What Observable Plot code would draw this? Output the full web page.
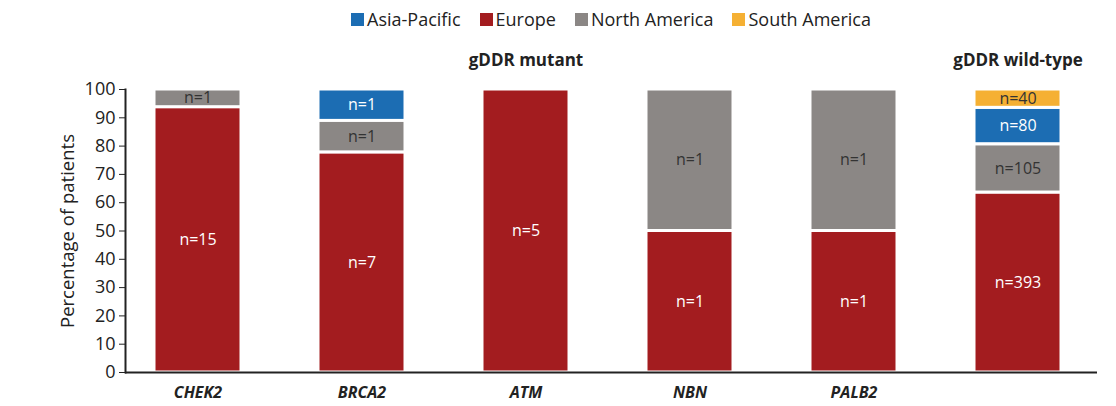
<!DOCTYPE html>
<html><head><meta charset="utf-8">
<script src="https://cdn.jsdelivr.net/npm/d3@7"></script>
<script src="https://cdn.jsdelivr.net/npm/@observablehq/plot@0.6"></script>
<style>
body{margin:0;background:#fff;font-family:"Open Sans",sans-serif;}
#legend{height:38px;box-sizing:border-box;padding:0 19px 0 125px;display:flex;justify-content:center;align-items:center;}
#legend > div{margin:0!important;font-family:"Open Sans",sans-serif!important;font-size:18px!important;color:#222!important;min-height:0!important;}
#legend span{margin-right:19px!important;}
#legend span:last-child{margin-right:0!important;}
#legend svg{margin-right:3px!important;}
</style></head><body>
<div id="legend"></div><div id="chart"></div>
<script>
const genes = ["CHEK2","BRCA2","ATM","NBN","PALB2","WT"];
const geneLabels = ["CHEK2","BRCA2","ATM","NBN","PALB2",""];
const regions = ["Asia-Pacific","Europe","North America","South America"];
const regionColors = ["#1c6db3","#a31c1f","#8b8785","#f5b033"];
const stackOrder = ["Europe","North America","Asia-Pacific","South America"];
const europeN = [15,7,5,1,1,393];
const northAmericaN = [1,1,0,1,1,105];
const asiaPacificN = [0,1,0,0,0,80];
const southAmericaN = [0,0,0,0,0,40];
const groupTitles = ["gDDR mutant","gDDR wild-type"];
const groupAt = ["ATM","WT"];
const lightText = ["Europe","Asia-Pacific"];

const counts = {"Europe":europeN,"North America":northAmericaN,"Asia-Pacific":asiaPacificN,"South America":southAmericaN};
const rows = [];
genes.forEach((g,i)=>{
  const total = regions.reduce((s,r)=>s+counts[r][i],0);
  regions.forEach(r=>{
    const n = counts[r][i];
    if(n>0) rows.push({gene:g, region:r, n, pct:n/total*100});
  });
});

const chart = Plot.plot({
  width:1116, height:368, marginTop:51, marginBottom:34, marginLeft:125, marginRight:19,
  style:{fontFamily:"Open Sans", fontSize:"17px", color:"#222", background:"#fff"},
  x:{domain:genes, paddingInner:0.472, paddingOuter:0.185, align:0.45, label:null},
  y:{domain:[0,100], label:"Percentage of patients"},
  color:{domain:regions, range:regionColors},
  marks:[
    Plot.barY(rows, {x:"gene", y:"pct", fill:"region", z:"region", order:stackOrder, stroke:"white", strokeWidth:3}),
    Plot.text(rows, Plot.stackY({x:"gene", y:"pct", z:"region", order:stackOrder,
      text:d=>lightText.includes(d.region)?"n="+d.n:null, fill:"white", fontSize:16})),
    Plot.text(rows, Plot.stackY({x:"gene", y:"pct", z:"region", order:stackOrder,
      text:d=>lightText.includes(d.region)?null:"n="+d.n, fill:"#333", fontSize:16})),
    Plot.text(groupTitles, {x:(d,i)=>groupAt[i], text:d=>d, frameAnchor:"top", dy:-36, fontWeight:"bold", fontSize:17, fill:"#222"}),
    Plot.axisY({ticks:d3.range(0,101,10), tickSize:6, tickPadding:4, fontSize:18, label:null, fill:"#222"}),
    Plot.axisY({ticks:[], label:"Percentage of patients", labelAnchor:"center", labelArrow:"none",
      labelOffset:65, fontSize:18.5, fill:"#222"}),
    Plot.axisX({tickSize:0, tickPadding:14, fontWeight:"bold", fontStyle:"italic", fontSize:16, fill:"#222",
      tickFormat:d=>geneLabels[genes.indexOf(d)], label:null}),
    Plot.frame({anchor:"left", stroke:"#222", strokeWidth:2}),
    Plot.ruleY([0], {stroke:"#222", strokeWidth:2})
  ]
});
document.getElementById("chart").appendChild(chart);
document.getElementById("legend").appendChild(chart.legend("color", {swatchSize:13}));
</script>
</body></html>
